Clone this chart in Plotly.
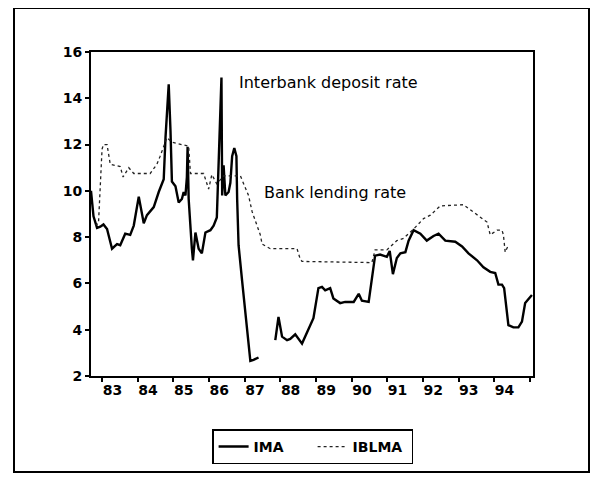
import plotly.graph_objects as go

# IMA: interbank deposit rate (decimal year, %)
ima_x = [1982.69, 1982.76, 1982.86, 1982.95, 1983.04, 1983.14, 1983.28, 1983.42, 1983.51, 1983.65,
         1983.79, 1983.89, 1984.03, 1984.17, 1984.26, 1984.45, 1984.59, 1984.68, 1984.73, 1984.78,
         1984.83, 1984.87, 1984.92, 1984.96, 1985.06, 1985.15, 1985.24, 1985.29, 1985.34, 1985.38,
         1985.40, 1985.43, 1985.52, 1985.55, 1985.62, 1985.71, 1985.80, 1985.90, 1986.04, 1986.13,
         1986.22, 1986.27, 1986.32, 1986.35, 1986.37, 1986.41, 1986.46, 1986.55, 1986.60, 1986.65,
         1986.71, 1986.77, 1986.79, 1986.83, 1986.93, 1987.02, 1987.11, 1987.16, 1987.25, 1987.39,
         1987.60,
         1987.86, 1987.95, 1988.05, 1988.19, 1988.28, 1988.42, 1988.61, 1988.79, 1988.93, 1989.07,
         1989.17, 1989.26, 1989.40, 1989.49, 1989.68, 1989.82, 1990.06, 1990.20, 1990.29, 1990.48,
         1990.66, 1990.80, 1990.99, 1991.07, 1991.16, 1991.27, 1991.37, 1991.51, 1991.60, 1991.74,
         1991.93, 1992.11, 1992.30, 1992.44, 1992.63, 1992.91, 1993.10, 1993.28, 1993.52, 1993.70,
         1993.89, 1994.03, 1994.12, 1994.22, 1994.28, 1994.40, 1994.54, 1994.68, 1994.78, 1994.87,
         1995.06]
ima_y = [10.0, 8.9, 8.4, 8.45, 8.55, 8.35, 7.5, 7.7, 7.65, 8.15,
         8.1, 8.5, 9.75, 8.6, 8.95, 9.3, 9.95, 10.35, 10.5, 12.3,
         13.5, 14.6, 12.6, 10.4, 10.2, 9.5, 9.65, 9.95, 9.8, 10.6,
         11.9, 9.65, 7.5, 7.0, 8.2, 7.5, 7.3, 8.2, 8.3, 8.5,
         8.85, 11.0, 13.2, 14.9, 9.8, 11.1, 9.8, 9.95, 10.35, 11.5,
         11.85, 11.5, 9.65, 7.65, 6.1, 4.65, 3.2, 2.65, 2.7, 2.8,
         None,
         3.55, 4.55, 3.7, 3.55, 3.6, 3.8, 3.4, 4.0, 4.5, 5.8,
         5.85, 5.7, 5.8, 5.35, 5.15, 5.2, 5.2, 5.55, 5.25, 5.2,
         7.2, 7.25, 7.15, 7.4, 6.4, 7.1, 7.3, 7.35, 7.85, 8.3,
         8.15, 7.85, 8.05, 8.15, 7.85, 7.8, 7.6, 7.3, 7.0, 6.7,
         6.5, 6.45, 5.95, 5.95, 5.8, 4.2, 4.1, 4.1, 4.35, 5.15,
         5.5]

# IBLMA: bank lending rate (decimal year, %)
iblma_x = [1982.81, 1982.90, 1983.00, 1983.04, 1983.14, 1983.23, 1983.51, 1983.59, 1983.75, 1983.89,
           1984.35, 1984.54, 1984.63, 1984.82, 1984.96, 1985.29, 1985.43, 1985.48, 1985.85, 1985.99,
           1986.08, 1986.22, 1986.41, 1986.88, 1987.02, 1987.11, 1987.21, 1987.35, 1987.44, 1987.49,
           1987.72, 1988.47, 1988.56, 1988.61, 1990.57, 1990.66, 1990.99, 1991.27, 1991.46, 1991.74,
           1992.02, 1992.21, 1992.49, 1993.14, 1993.60, 1993.80, 1993.89, 1994.08, 1994.22, 1994.26,
           1994.31, 1994.40]
iblma_y = [8.5, 8.6, 11.8, 12.0, 12.0, 11.15, 11.05, 10.6, 11.0, 10.75,
           10.75, 11.15, 11.5, 12.3, 12.1, 12.0, 11.93, 10.75, 10.75, 10.08,
           10.7, 10.3, 10.65, 10.65, 10.08, 9.8, 9.1, 8.5, 8.1, 7.7,
           7.5, 7.5, 7.05, 6.95, 6.9, 7.45, 7.45, 7.85, 7.95, 8.35,
           8.8, 8.95, 9.35, 9.4, 8.85, 8.65, 8.1, 8.3, 8.3, 8.1,
           7.35, 7.65]

year_ticks = list(range(1983, 1995))
year_labels = [str(y)[2:] for y in year_ticks]
y_ticks = [2, 4, 6, 8, 10, 12, 14, 16]

FONT = "DejaVu Sans"

fig = go.Figure()
fig.add_trace(go.Scatter(x=ima_x, y=ima_y, mode="lines", name="IMA",
                         line=dict(color="black", width=2.4), connectgaps=False))
fig.add_trace(go.Scatter(x=iblma_x, y=iblma_y, mode="lines", name="IBLMA",
                         line=dict(color="#222222", width=1.3, dash="dot")))

tickfont = dict(family=FONT, size=14, color="black", weight="bold")

fig.update_layout(
    width=582, height=465,
    margin=dict(l=83, r=57, t=44, b=97, autoexpand=False),
    paper_bgcolor="white", plot_bgcolor="white",
    font=dict(family=FONT, size=14, color="black"),
    showlegend=True,
    legend=dict(orientation="h", x=0.274, y=-0.165, xanchor="left", yanchor="top",
                bordercolor="black", borderwidth=1.5, bgcolor="white",
                font=dict(family=FONT, size=14, color="black", weight="bold"),
                entrywidth=54, entrywidthmode="pixels",
                itemwidth=30, tracegroupgap=0),
    xaxis=dict(range=[1982.69, 1995.09], tickmode="array",
               tickvals=[y + 0.29 for y in year_ticks], ticktext=year_labels,
               ticks="", showgrid=False, zeroline=False, automargin=False,
               showline=True, linecolor="black", linewidth=2, mirror=True,
               tickfont=tickfont,
               minor=dict(tick0=1983, dtick=1, ticks="outside", ticklen=4,
                          tickwidth=1.5, tickcolor="black", showgrid=False)),
    yaxis=dict(range=[2, 16], tickmode="array", tickvals=y_ticks,
               ticks="outside", ticklen=4, tickwidth=1.5, tickcolor="black",
               showgrid=False, zeroline=False, automargin=False,
               showline=True, linecolor="black", linewidth=2, mirror=True,
               tickfont=tickfont),
)

fig.add_annotation(x=1986.79, y=14.7, xref="x", yref="y", text="Interbank deposit rate",
                   showarrow=False, xanchor="left", yanchor="middle",
                   font=dict(family=FONT, size=16, color="black"))
fig.add_annotation(x=1987.49, y=9.95, xref="x", yref="y", text="Bank lending rate",
                   showarrow=False, xanchor="left", yanchor="middle",
                   font=dict(family=FONT, size=16, color="black"))

# outer frame
fig.add_shape(type="rect", xref="paper", yref="paper",
              x0=(14 - 91) / 442, x1=(589 - 91) / 442,
              y0=(376 - 472) / 324, y1=(376 - 8) / 324,
              line=dict(color="black", width=2), fillcolor="rgba(0,0,0,0)")

fig.write_html("out.html")
